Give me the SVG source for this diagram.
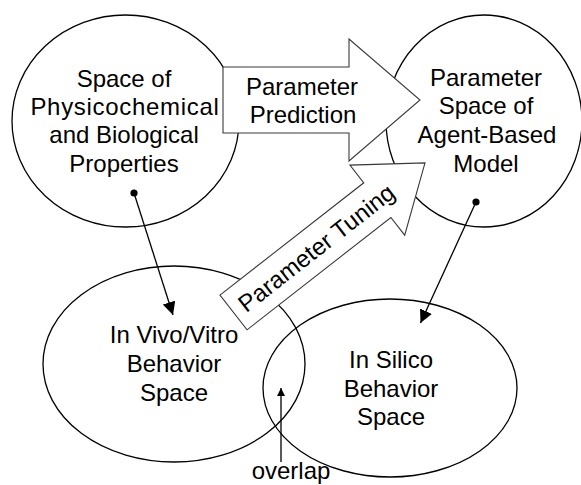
<svg xmlns="http://www.w3.org/2000/svg" width="581" height="485" viewBox="0 0 581 485">
  <style>
    .space { fill: none; stroke: #000; stroke-width: 1.3; }
    .block { fill: #fff; stroke: #3a3a3a; stroke-width: 1.1; }
    .label { font-family: "Liberation Sans", Arial, sans-serif; font-size: 24px; fill: #000; text-anchor: middle; }
    .wide { letter-spacing: 0.7px; }
    .link { stroke: #000; stroke-width: 1.3; fill: none; }
  </style>
  <defs>
    <marker id="head" viewBox="0 0 10 10" refX="10" refY="5" markerWidth="13" markerHeight="13" markerUnits="userSpaceOnUse" orient="auto">
      <path d="M0,0 L10,5 L0,10 Z" fill="#000"/>
    </marker>
    <marker id="headSmall" viewBox="0 0 10 10" refX="10" refY="5" markerWidth="9" markerHeight="8" markerUnits="userSpaceOnUse" orient="auto">
      <path d="M0,0 L10,5 L0,10 Z" fill="#000"/>
    </marker>
  </defs>

  <rect width="581" height="485" fill="#fff"/>

  <!-- property space -->
  <g id="properties">
    <ellipse class="space" cx="125.5" cy="121" rx="113.5" ry="106"/>
    <text class="label" x="124" y="87">Space of</text>
    <text class="label wide" x="125" y="115">Physicochemical</text>
    <text class="label" x="124" y="143">and Biological</text>
    <text class="label" x="124" y="172">Properties</text>
  </g>

  <!-- agent-based model parameter space -->
  <g id="abm-parameters">
    <ellipse class="space" cx="484" cy="121" rx="98" ry="106"/>
    <text class="label" x="486" y="86">Parameter</text>
    <text class="label" x="486" y="114">Space of</text>
    <text class="label" x="487" y="143">Agent-Based</text>
    <text class="label" x="486" y="172">Model</text>
  </g>

  <!-- experimental behaviour -->
  <g id="invivo">
    <ellipse class="space" cx="174" cy="364" rx="131" ry="98"/>
    <text class="label" x="174" y="343">In Vivo/Vitro</text>
    <text class="label" x="174" y="372">Behavior</text>
    <text class="label" x="174" y="401">Space</text>
  </g>

  <!-- simulated behaviour -->
  <g id="insilico">
    <ellipse class="space" cx="390" cy="388" rx="127" ry="89"/>
    <text class="label" x="391" y="368">In Silico</text>
    <text class="label" x="391" y="397">Behavior</text>
    <text class="label" x="391" y="425">Space</text>
  </g>

  <!-- block arrow: prediction -->
  <g id="prediction">
    <polygon class="block" points="223,67 349,67 349,39 420,100 349,161 349,133 223,133"/>
    <text class="label" x="302" y="95">Parameter</text>
    <text class="label" x="303" y="123">Prediction</text>
  </g>

  <!-- block arrow: tuning -->
  <g id="tuning" transform="translate(233.5,312.5) rotate(-38)">
    <polygon class="block" points="0,-22 182.5,-22 182.5,-44.5 243,0 182.5,44.5 182.5,22 0,22"/>
    <text class="label" x="105" y="8.5">Parameter Tuning</text>
  </g>

  <!-- overlap note -->
  <g id="overlap">
    <text class="label" x="291" y="479">overlap</text>
  </g>

  <g id="connectors">
    <circle cx="134" cy="193" r="3.6" fill="#000"/>
    <line class="link" x1="134" y1="193" x2="173" y2="315" marker-end="url(#head)"/>
    <circle cx="476" cy="202" r="3.6" fill="#000"/>
    <line class="link" x1="476" y1="202" x2="420.5" y2="323" marker-end="url(#head)"/>
    <line class="link" x1="281" y1="462" x2="281" y2="388" marker-end="url(#headSmall)"/>
  </g>
</svg>
